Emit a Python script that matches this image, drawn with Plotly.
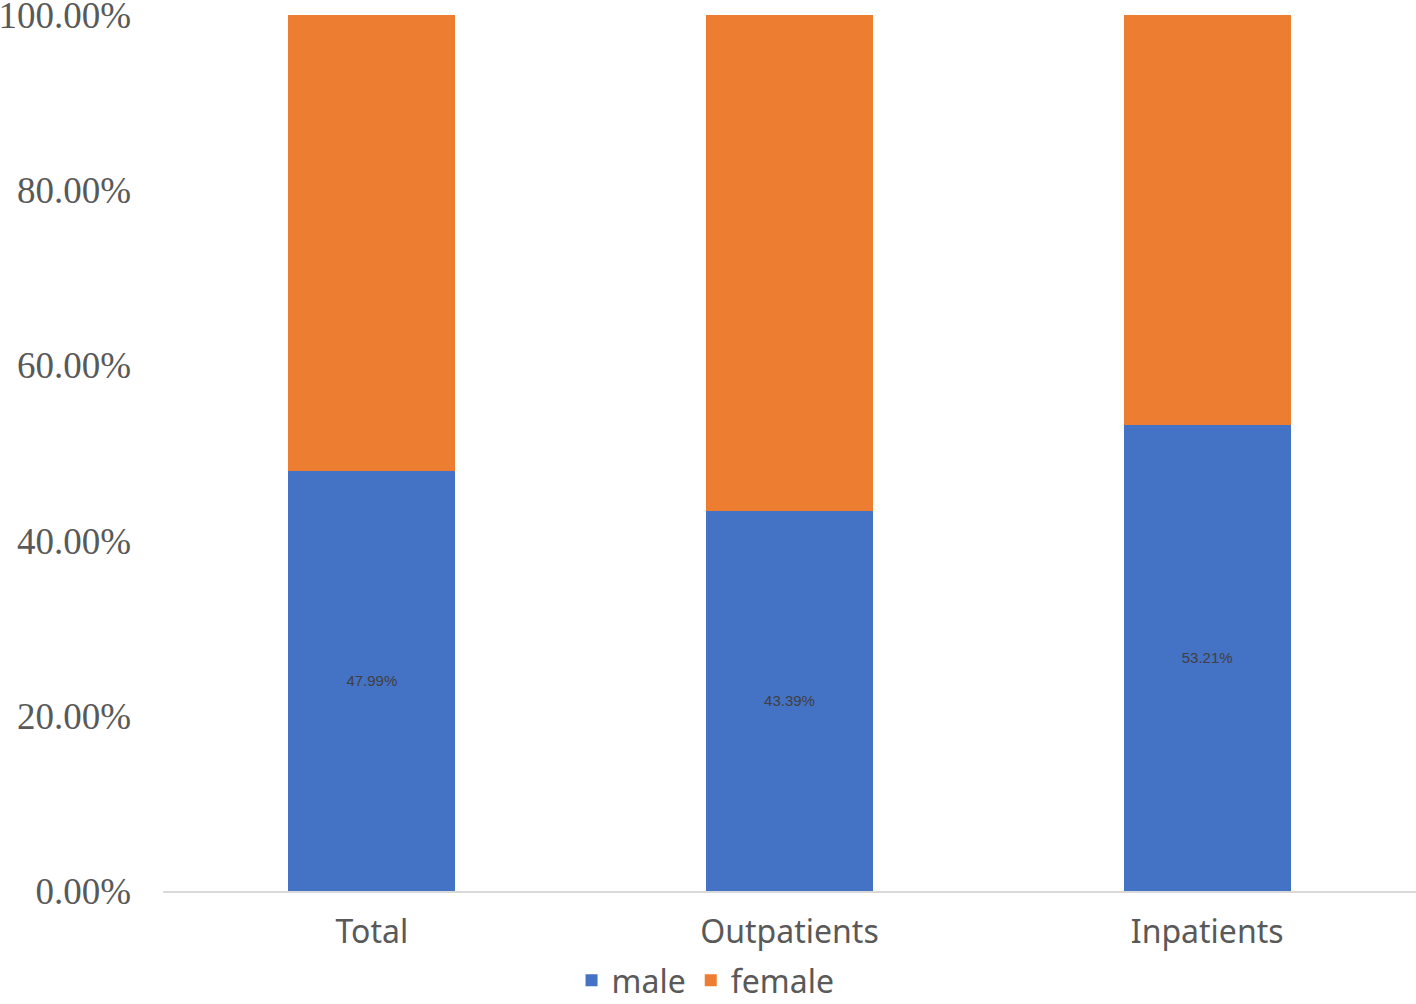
import plotly.graph_objects as go

groups = ["Total", "Outpatients", "Inpatients"]
male = [47.99, 43.39, 53.21]
female = [52.01, 56.61, 46.79]
y_ticks = [0, 20, 40, 60, 80, 100]

fig = go.Figure()
fig.add_trace(go.Bar(
    x=groups, y=male, name="male",
    marker=dict(color="#4472C4", line=dict(width=0)),
    text=[f"{v:.2f}%" for v in male],
    textposition="inside", insidetextanchor="middle",
    textfont=dict(family="Liberation Sans, Arial", size=15, color="#404040"),
    textangle=0,
))
fig.add_trace(go.Bar(
    x=groups, y=female, name="female",
    marker=dict(color="#ED7D31", line=dict(width=0)),
))

fig.update_layout(
    barmode="stack",
    bargap=0.6,
    width=1416, height=1004,
    margin=dict(l=163, r=0, t=15, b=113, autoexpand=False),
    plot_bgcolor="white",
    paper_bgcolor="white",
    showlegend=True,
    legend=dict(
        orientation="h", x=0.433, xanchor="center", y=-0.102, yanchor="middle",
        traceorder="normal",
        font=dict(family="Noto Sans, Open Sans, sans-serif", size=32, color="#595959"),
        itemwidth=30, tracegroupgap=0,
    ),
    uniformtext=dict(mode=False),
)
fig.update_xaxes(
    automargin=False,
    showgrid=False, showline=True, linecolor="#d9d9d9", linewidth=2,
    ticks="", ticklabelstandoff=12,
    tickfont=dict(family="Noto Sans, Open Sans, sans-serif", size=32, color="#595959"),
)
fig.update_yaxes(
    automargin=False,
    range=[0, 100], showgrid=False, zeroline=False, showline=False,
    tickvals=y_ticks, ticktext=[f"{v:.2f}%" for v in y_ticks],
    ticklabelstandoff=31, ticklabeloverflow="allow",
    tickfont=dict(family="Liberation Serif, Times New Roman, serif", size=37, color="#595959"),
)

# page body has a default 8px margin; drop it so the figure sits at the window edge
fig.write_html(
    "out.html",
    config={"displayModeBar": False},
    post_script="document.body.style.margin='0';",
)
